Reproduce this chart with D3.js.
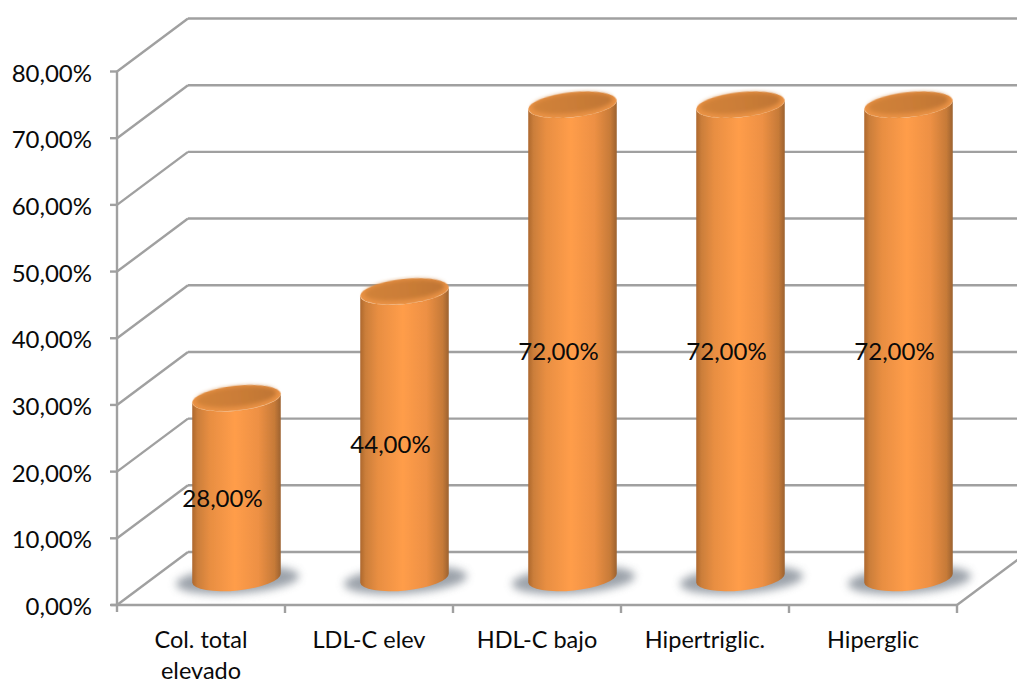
<!DOCTYPE html>
<html>
<head>
<meta charset="utf-8">
<script src="https://cdn.jsdelivr.net/npm/d3@7"></script>
<style>
  html, body { margin: 0; padding: 0; background: #fff; }
  svg { display: block; }
  text { font-family: Lato, "Open Sans", sans-serif; fill: #0a0a0a; }
</style>
</head>
<body>
<div id="chart"></div>
<script>
var categories = ["Col. total|elevado", "LDL-C elev", "HDL-C bajo", "Hipertriglic.", "Hiperglic"];
var values = [28, 44, 72, 72, 72];
var tickValues = [0, 10, 20, 30, 40, 50, 60, 70, 80];

var width = 1017, height = 683;
// 3d wall offset
var depthX = 71, depthY = -53;
var rx = 44.5, ry = 12.5, tilt = -6;

var svg = d3.select("#chart").append("svg")
  .attr("width", width)
  .attr("height", height);

var x = d3.scaleBand().domain(categories).range([117, 957]);
var y = d3.scaleLinear().domain([0, 80]).range([605, 71.5]);

function pct(v) { return v.toFixed(2).replace(".", ",") + "%"; }

var defs = svg.append("defs");

var side = defs.append("linearGradient").attr("id", "side");
[[0, "#ad682e"], [0.06, "#cb7e3a"], [0.2, "#e88e42"], [0.48, "#ff9d49"], [0.75, "#ed9044"], [0.93, "#c67a38"], [1, "#9c6230"]]
  .forEach(function(s) {
    side.append("stop").attr("offset", s[0]).attr("stop-color", s[1]);
  });

var lid = defs.append("linearGradient").attr("id", "lid")
  .attr("x1", 0).attr("x2", 1).attr("y1", 0).attr("y2", 0);
[[0, "#d18238"], [0.5, "#cb7d37"], [1, "#bf7533"]].forEach(function(s) {
  lid.append("stop").attr("offset", s[0]).attr("stop-color", s[1]);
});

defs.append("filter").attr("id", "blurShadow")
  .attr("x", "-30%").attr("y", "-80%").attr("width", "160%").attr("height", "260%")
  .append("feGaussianBlur").attr("stdDeviation", 4);

defs.append("filter").attr("id", "soft")
  .append("feGaussianBlur").attr("stdDeviation", 0.6);

defs.append("filter").attr("id", "softer")
  .attr("x", "-10%").attr("y", "-20%").attr("width", "120%").attr("height", "140%")
  .append("feGaussianBlur").attr("stdDeviation", 2);

defs.append("filter").attr("id", "softLine")
  .attr("filterUnits", "userSpaceOnUse")
  .attr("x", 0).attr("y", 0).attr("width", width).attr("height", height)
  .append("feGaussianBlur").attr("stdDeviation", 0.4);

// gridlines on back wall + side wall
var grid = svg.append("g")
  .attr("stroke", "#a0a0a0")
  .attr("stroke-width", 2.4)
  .attr("fill", "none")
  .attr("filter", "url(#softLine)");

grid.selectAll(".back").data(tickValues).enter().append("line")
  .attr("class", "back")
  .attr("x1", function(d) { return 117 + depthX; })
  .attr("x2", width)
  .attr("y1", function(d) { return y(d) + depthY; })
  .attr("y2", function(d) { return y(d) + depthY; });

grid.selectAll(".wall").data(tickValues).enter().append("line")
  .attr("class", "wall")
  .attr("x1", 117)
  .attr("x2", 117 + depthX)
  .attr("y1", function(d) { return y(d); })
  .attr("y2", function(d) { return y(d) + depthY; });

// floor right edge
grid.append("line")
  .attr("x1", 957).attr("y1", y(0))
  .attr("x2", 957 + depthX).attr("y2", y(0) + depthY);

// axes
var axisG = svg.append("g")
  .attr("stroke", "#a0a0a0")
  .attr("stroke-width", 2.4)
  .attr("filter", "url(#softLine)");

axisG.append("line").attr("x1", 117).attr("x2", 117).attr("y1", y(80)).attr("y2", y(0) + 7);
axisG.append("line").attr("x1", 111).attr("x2", 957).attr("y1", y(0)).attr("y2", y(0));

axisG.selectAll(".ytick").data(tickValues).enter().append("line")
  .attr("class", "ytick")
  .attr("x1", 110).attr("x2", 117)
  .attr("y1", function(d) { return y(d); })
  .attr("y2", function(d) { return y(d); });

axisG.selectAll(".xtick").data(categories).enter().append("line")
  .attr("class", "xtick")
  .attr("x1", function(d) { return x(d) + x.bandwidth(); })
  .attr("x2", function(d) { return x(d) + x.bandwidth(); })
  .attr("y1", y(0))
  .attr("y2", y(0) + 8);

svg.selectAll(".ylabel").data(tickValues).enter().append("text")
  .attr("class", "ylabel")
  .attr("x", 92)
  .attr("y", function(d) { return y(d) + 10; })
  .attr("text-anchor", "end")
  .attr("font-size", 24)
  .text(pct);

// category labels, | splits the line
svg.selectAll(".xlabel").data(categories).enter().append("text")
  .attr("class", "xlabel")
  .attr("text-anchor", "middle")
  .attr("font-size", 23.5)
  .attr("y", 647.5)
  .each(function(d) {
    var self = d3.select(this);
    d.split("|").forEach(function(part, i) {
      self.append("tspan")
        .attr("x", x(d) + x.bandwidth() / 2)
        .attr("dy", i ? 31 : 0)
        .text(part);
    });
  });

// bars
var cx = function(d) { return x(d) + x.bandwidth() / 2 + 35.5; };
var baseY = y(0) - 27;
var topY = function(v) { return y(v) - 20; };
var rad = tilt * Math.PI / 180;
var ex = rx * Math.cos(rad), ey = rx * Math.sin(rad);

var data = categories.map(function(c, i) { return { cat: c, val: values[i] }; });

var bars = svg.selectAll(".bar").data(data).enter().append("g").attr("class", "bar");

bars.append("ellipse")
  .attr("cx", function(d) { return cx(d.cat) + 1; })
  .attr("cy", baseY + 2)
  .attr("rx", rx + 17)
  .attr("ry", ry + 1)
  .attr("transform", function(d) { return "rotate(-4 " + (cx(d.cat) + 1) + " " + (baseY + 2) + ")"; })
  .attr("fill", "#8a929b")
  .attr("opacity", 0.85)
  .attr("filter", "url(#blurShadow)");

bars.append("path")
  .attr("fill", "url(#side)")
  .attr("filter", "url(#soft)")
  .attr("d", function(d) {
    var c = cx(d.cat), t = topY(d.val);
    return "M" + (c - ex) + "," + (t - ey) +
      "L" + (c - ex) + "," + (baseY - ey) +
      "A" + rx + "," + ry + " " + tilt + " 0 0 " + (c + ex) + "," + (baseY + ey) +
      "L" + (c + ex) + "," + (t + ey) +
      "A" + rx + "," + ry + " " + tilt + " 0 1 " + (c - ex) + "," + (t - ey) + "Z";
  });

// rim of the lid
bars.append("ellipse")
  .attr("cx", function(d) { return cx(d.cat); })
  .attr("cy", function(d) { return topY(d.val); })
  .attr("rx", rx)
  .attr("ry", ry)
  .attr("transform", function(d) { return "rotate(" + tilt + " " + cx(d.cat) + " " + topY(d.val) + ")"; })
  .attr("fill", "#ea9244")
  .attr("filter", "url(#soft)");

bars.append("ellipse")
  .attr("cx", function(d) { return cx(d.cat); })
  .attr("cy", function(d) { return topY(d.val) - 1.5; })
  .attr("rx", rx - 4)
  .attr("ry", ry - 2.5)
  .attr("transform", function(d) { return "rotate(" + tilt + " " + cx(d.cat) + " " + topY(d.val) + ")"; })
  .attr("fill", "url(#lid)")
  .attr("filter", "url(#softer)");

// value labels
svg.selectAll(".val").data(data).enter().append("text")
  .attr("class", "val")
  .attr("x", function(d) { return cx(d.cat) - 14; })
  .attr("y", function(d) { return y(d.val / 2) - 13 + 8; })
  .attr("text-anchor", "middle")
  .attr("font-size", 24)
  .text(function(d) { return pct(d.val); });
</script>
</body>
</html>
